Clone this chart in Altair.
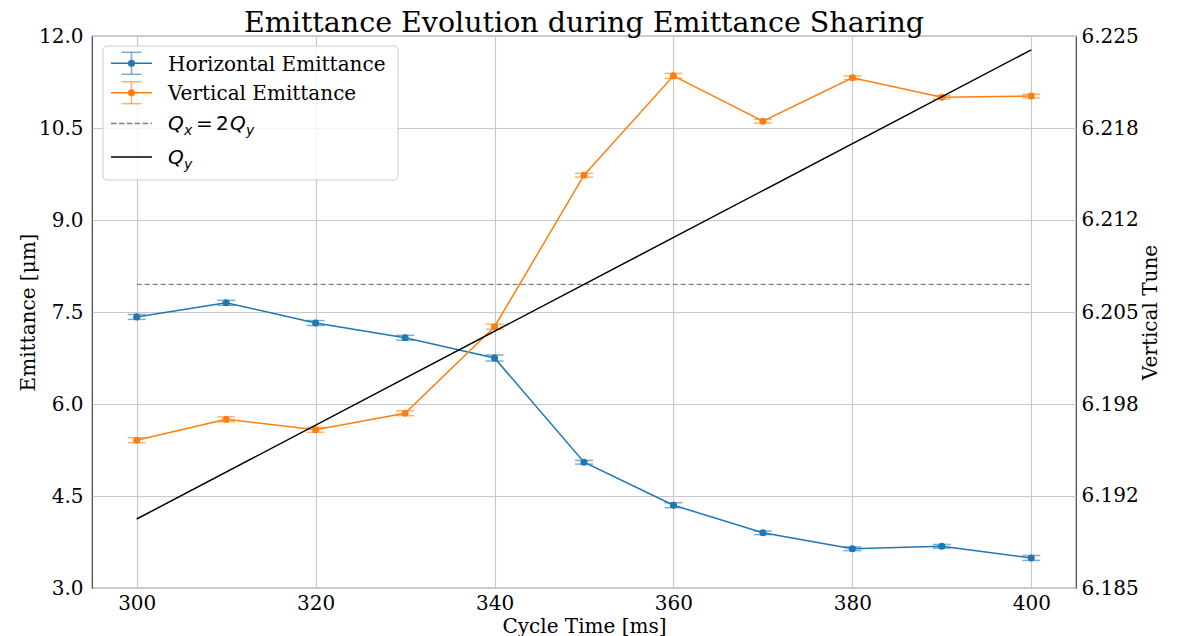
import altair as alt
import pandas as pd

# ---------------- data ----------------
cycle_time = [300, 310, 320, 330, 340, 350, 360, 370, 380, 390, 400]
horizontal_emittance = [7.42, 7.65, 7.32, 7.08, 6.75, 5.05, 4.35, 3.90, 3.64, 3.68, 3.49]
horizontal_error = [0.04, 0.04, 0.04, 0.04, 0.05, 0.03, 0.04, 0.03, 0.03, 0.03, 0.04]
vertical_emittance = [5.41, 5.75, 5.58, 5.85, 7.26, 9.73, 11.35, 10.61, 11.32, 11.00, 11.02]
vertical_error = [0.04, 0.04, 0.04, 0.04, 0.04, 0.03, 0.04, 0.03, 0.03, 0.03, 0.03]

qy_time = [300, 400]
qy_tune = [6.190, 6.224]
resonance_time = [300, 400]
resonance_tune = [6.207, 6.207]

x_ticks = [300, 320, 340, 360, 380, 400]
emit_ticks = [3.0, 4.5, 6.0, 7.5, 9.0, 10.5, 12.0]
tune_ticks = [6.185, 6.19167, 6.19833, 6.205, 6.21167, 6.21833, 6.225]

series_names = ["Horizontal Emittance", "Vertical Emittance"]
series_colors = ["#1f77b4", "#ff7f0e"]

# ---------------- tables ----------------
rows = []
for name, vals, errs in [(series_names[0], horizontal_emittance, horizontal_error),
                         (series_names[1], vertical_emittance, vertical_error)]:
    for t, v, e in zip(cycle_time, vals, errs):
        rows.append({"series": name, "time": t, "value": v, "lo": v - e, "hi": v + e})
emit_df = pd.DataFrame(rows)
qy_df = pd.DataFrame({"time": qy_time, "tune": qy_tune})
res_df = pd.DataFrame({"time": resonance_time, "tune": resonance_tune})

SERIF = "DejaVu Serif"
SANS = "DejaVu Sans"

x_enc = alt.X("time:Q",
              scale=alt.Scale(domain=[295, 405], nice=False, zero=False),
              axis=alt.Axis(values=x_ticks, format="d", grid=True, title="Cycle Time [ms]",
                            labelPadding=5, titlePadding=3))

emit_scale = alt.Scale(domain=[3, 12], nice=False, zero=False)
emit_axis = alt.Axis(values=emit_ticks, format=".1f", grid=True, labelPadding=9, titlePadding=0)
tune_scale = alt.Scale(domain=[6.185, 6.225], nice=False, zero=False)
tune_axis = alt.Axis(orient="right", values=tune_ticks, format=".3f", grid=False,
                     labelPadding=5, titlePadding=2, titleAngle=270, titleBaseline="top")


def ey(field):
    return alt.Y(f"{field}:Q", scale=emit_scale, axis=emit_axis, title="Emittance [μm]")


def ty(field):
    return alt.Y(f"{field}:Q", scale=tune_scale, axis=tune_axis, title="Vertical Tune")


color = alt.Color("series:N", scale=alt.Scale(domain=series_names, range=series_colors), legend=None)

base = alt.Chart(emit_df)
lines = base.mark_line(strokeWidth=1.5).encode(x=x_enc, y=ey("value"), color=color)
bars = base.mark_rule(strokeWidth=1.5, opacity=0.6).encode(x=x_enc, y=ey("lo"), y2="hi", color=color)
cap_lo = base.mark_tick(orient="horizontal", size=18, thickness=1.5, opacity=0.6).encode(
    x=x_enc, y=ey("lo"), color=color)
cap_hi = base.mark_tick(orient="horizontal", size=18, thickness=1.5, opacity=0.6).encode(
    x=x_enc, y=ey("hi"), color=color)
points = base.mark_circle(size=50, opacity=1).encode(x=x_enc, y=ey("value"), color=color)
left = alt.layer(lines, bars, cap_lo, cap_hi, points)

res_line = alt.Chart(res_df).mark_line(strokeWidth=1.3, strokeDash=[5, 3], color="#808080").encode(
    x=x_enc, y=ty("tune"))
qy_line = alt.Chart(qy_df).mark_line(strokeWidth=1.5, color="black").encode(x=x_enc, y=ty("tune"))
right = alt.layer(res_line, qy_line)

# ---------------- legend (drawn as decoration in pixel space) ----------------
one = pd.DataFrame({"k": [0]})
box = alt.Chart(one).mark_rect(
    fill="white", fillOpacity=0.8, stroke="#cccccc", strokeWidth=1, cornerRadius=4
).encode(x=alt.value(11), x2=alt.value(306), y=alt.value(10), y2=alt.value(144))


def hrule(x1, x2, yy, col, width=1.5, dash=None, opacity=1.0):
    kw = dict(strokeWidth=width, color=col, opacity=opacity)
    if dash:
        kw["strokeDash"] = dash
    return alt.Chart(one).mark_rule(**kw).encode(x=alt.value(x1), x2=alt.value(x2), y=alt.value(yy))


def vrule(xx, y1, y2, col, opacity=1.0):
    return alt.Chart(one).mark_rule(strokeWidth=1.5, color=col, opacity=opacity).encode(
        x=alt.value(xx), y=alt.value(y1), y2=alt.value(y2))


def dot(xx, yy, col):
    return alt.Chart(one).mark_circle(size=50, opacity=1, color=col).encode(
        x=alt.value(xx), y=alt.value(yy))


def txt(s, xpos, ypos, size=20, style="italic", font=SANS):
    return alt.Chart(one).mark_text(text=s, font=font, fontSize=size, fontStyle=style,
                                    align="left", baseline="alphabetic", color="black").encode(
        x=alt.value(xpos), y=alt.value(ypos))


legend_layers = [box]
for name, col, cy in [(series_names[0], series_colors[0], 27.3), (series_names[1], series_colors[1], 56.7)]:
    legend_layers += [
        hrule(19, 60, cy, col),
        vrule(39.5, cy - 11, cy + 11, col, 0.6),
        hrule(29.5, 49.5, cy - 11, col, opacity=0.6),
        hrule(29.5, 49.5, cy + 11, col, opacity=0.6),
        dot(39.5, cy, col),
        txt(name, 76, cy + 7.3, 20, "normal", SERIF),
    ]
legend_layers += [
    hrule(19, 60, 87.5, "#808080", 1.3, [5.5, 2.4]),
    hrule(19, 60, 121, "black"),
    txt("Q", 76, 94), txt("x", 92, 98.5, 14), txt("=", 104, 94, 20, "normal"),
    txt("2", 124, 94, 20, "normal"), txt("Q", 138, 94), txt("y", 154, 98.5, 14),
    txt("Q", 76, 128), txt("y", 92, 132.5, 14),
]

chart = alt.layer(left, right, *legend_layers).resolve_scale(
    y="independent"
).properties(
    width=984, height=552,
    padding={"left": 84, "top": 28, "right": 96, "bottom": 48},
    autosize=alt.AutoSizeParams(type="none"),
    title=alt.Title("Emittance Evolution during Emittance Sharing", font=SERIF, fontSize=28.5,
                    fontWeight="normal", color="black", anchor="middle", offset=6, dy=17),
    background="white",
).configure_view(stroke="#444444", strokeWidth=1.2).configure_axis(
    labelFont=SERIF, labelFontSize=20, labelColor="black",
    titleFont=SERIF, titleFontSize=20, titleFontWeight="normal", titleColor="black",
    ticks=False, tickSize=0, domain=False, gridColor="#c8c8c8", gridWidth=1.1,
)

chart.save("out.html", embed_options={"renderer": "svg", "actions": False})
